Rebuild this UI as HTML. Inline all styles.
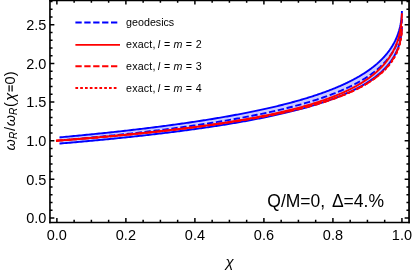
<!DOCTYPE html>
<html><head><meta charset="utf-8"><title>plot</title>
<style>html,body{margin:0;padding:0;background:#fff}svg text{filter:grayscale(1)}body{width:413px;height:272px;overflow:hidden}</style></head>
<body>
<svg width="413" height="272" viewBox="0 0 413 272" style="display:block;font-family:'Liberation Sans',sans-serif">
<rect width="413" height="272" fill="#fff"/>
<g>
<path d="M59.47,137.38 L60.67,137.27 L62.56,137.09 L64.44,136.92 L66.32,136.75 L68.19,136.58 L70.06,136.40 L71.92,136.23 L73.77,136.05 L75.62,135.88 L77.46,135.70 L79.30,135.53 L81.13,135.35 L82.95,135.17 L84.77,134.99 L86.59,134.82 L88.40,134.64 L90.20,134.46 L92.00,134.28 L93.79,134.10 L95.57,133.92 L97.35,133.73 L99.13,133.55 L100.90,133.37 L102.66,133.19 L104.42,133.00 L106.17,132.82 L107.92,132.64 L109.66,132.45 L111.39,132.27 L113.12,132.08 L114.84,131.89 L116.56,131.71 L118.27,131.52 L119.98,131.33 L121.68,131.14 L123.38,130.95 L125.07,130.76 L126.75,130.57 L128.43,130.38 L130.10,130.19 L131.77,130.00 L133.43,129.80 L135.09,129.61 L136.74,129.42 L138.39,129.22 L140.03,129.03 L141.66,128.83 L143.29,128.64 L144.91,128.44 L146.53,128.24 L148.14,128.04 L149.75,127.85 L151.35,127.65 L152.94,127.45 L154.53,127.25 L156.12,127.05 L157.69,126.84 L159.27,126.64 L160.83,126.44 L162.40,126.24 L163.95,126.03 L165.50,125.83 L167.05,125.62 L168.59,125.42 L170.12,125.21 L171.65,125.01 L173.17,124.80 L174.69,124.59 L176.20,124.38 L177.71,124.17 L179.21,123.96 L180.71,123.75 L182.20,123.54 L183.68,123.33 L185.16,123.12 L186.63,122.91 L188.10,122.69 L189.56,122.48 L191.02,122.26 L192.47,122.05 L193.92,121.83 L195.36,121.62 L196.80,121.40 L198.22,121.18 L199.65,120.96 L201.07,120.74 L202.48,120.52 L203.89,120.30 L205.29,120.08 L206.69,119.86 L208.08,119.64 L209.47,119.41 L210.85,119.19 L212.22,118.97 L213.59,118.74 L214.96,118.51 L216.32,118.29 L217.67,118.06 L219.02,117.83 L220.36,117.60 L221.70,117.37 L223.03,117.14 L224.36,116.91 L225.68,116.68 L227.00,116.45 L228.31,116.22 L229.61,115.98 L230.91,115.75 L232.21,115.52 L233.50,115.28 L234.78,115.04 L236.06,114.81 L237.33,114.57 L238.60,114.33 L239.86,114.09 L241.12,113.85 L242.37,113.61 L243.62,113.37 L244.86,113.13 L246.09,112.89 L247.32,112.64 L248.55,112.40 L249.77,112.15 L250.98,111.91 L252.19,111.66 L253.40,111.41 L254.60,111.17 L255.79,110.92 L256.98,110.67 L258.16,110.42 L259.34,110.17 L260.51,109.91 L261.68,109.66 L262.84,109.41 L263.99,109.16 L265.15,108.90 L266.29,108.64 L267.43,108.39 L268.57,108.13 L269.70,107.87 L270.82,107.61 L271.94,107.36 L273.06,107.09 L274.16,106.83 L275.27,106.57 L276.37,106.31 L277.46,106.05 L278.55,105.78 L279.63,105.52 L280.71,105.25 L281.78,104.98 L282.85,104.72 L283.91,104.45 L284.97,104.18 L286.02,103.91 L287.07,103.64 L288.11,103.37 L289.15,103.09 L290.18,102.82 L291.20,102.55 L292.22,102.27 L293.24,102.00 L294.25,101.72 L295.25,101.44 L296.25,101.16 L297.25,100.88 L298.24,100.60 L299.22,100.32 L300.20,100.04 L301.18,99.76 L302.15,99.47 L303.11,99.19 L304.07,98.90 L305.03,98.62 L305.97,98.33 L306.92,98.04 L307.86,97.75 L308.79,97.46 L309.72,97.17 L310.64,96.88 L311.56,96.59 L312.48,96.30 L313.38,96.00 L314.29,95.71 L315.19,95.41 L316.08,95.11 L316.97,94.82 L317.85,94.52 L318.73,94.22 L319.60,93.92 L320.47,93.61 L321.33,93.31 L322.19,93.01 L323.04,92.70 L323.89,92.40 L324.73,92.09 L325.57,91.78 L326.41,91.48 L327.23,91.17 L328.06,90.86 L328.88,90.55 L329.69,90.23 L330.50,89.92 L331.30,89.61 L332.10,89.29 L332.89,88.98 L333.68,88.66 L334.46,88.34 L335.24,88.02 L336.02,87.70 L336.78,87.38 L337.55,87.06 L338.31,86.74 L339.06,86.41 L339.81,86.09 L340.55,85.76 L341.29,85.43 L342.03,85.11 L342.76,84.78 L343.48,84.45 L344.20,84.11 L344.92,83.78 L345.63,83.45 L346.33,83.12 L347.03,82.78 L347.73,82.44 L348.42,82.11 L349.10,81.77 L349.78,81.43 L350.46,81.09 L351.13,80.75 L351.80,80.40 L352.46,80.06 L353.12,79.72 L353.77,79.37 L354.42,79.02 L355.06,78.68 L355.70,78.33 L356.33,77.98 L356.96,77.63 L357.58,77.27 L358.20,76.92 L358.82,76.57 L359.42,76.21 L360.03,75.85 L360.63,75.50 L361.22,75.14 L361.81,74.78 L362.40,74.42 L362.98,74.05 L363.56,73.69 L364.13,73.33 L364.70,72.96 L365.26,72.59 L365.82,72.23 L366.37,71.86 L366.92,71.49 L367.46,71.12 L368.00,70.74 L368.54,70.37 L369.07,70.00 L369.59,69.62 L370.11,69.24 L370.63,68.86 L371.14,68.49 L371.64,68.11 L372.15,67.72 L372.64,67.34 L373.14,66.96 L373.63,66.57 L374.11,66.19 L374.59,65.80 L375.06,65.41 L375.53,65.02 L376.00,64.63 L376.46,64.24 L376.92,63.85 L377.37,63.45 L377.82,63.06 L378.26,62.66 L378.70,62.26 L379.13,61.86 L379.56,61.46 L379.99,61.06 L380.41,60.66 L380.83,60.25 L381.24,59.85 L381.65,59.44 L382.05,59.03 L382.45,58.63 L382.84,58.22 L383.23,57.81 L383.62,57.39 L384.00,56.98 L384.38,56.56 L384.75,56.15 L385.12,55.73 L385.48,55.31 L385.84,54.89 L386.19,54.47 L386.54,54.05 L386.89,53.63 L387.23,53.20 L387.57,52.78 L387.90,52.35 L388.23,51.93 L388.56,51.50 L388.88,51.07 L389.20,50.63 L389.51,50.20 L389.82,49.77 L390.12,49.33 L390.42,48.90 L390.71,48.46 L391.01,48.02 L391.29,47.58 L391.58,47.14 L391.85,46.70 L392.13,46.26 L392.40,45.81 L392.67,45.37 L392.93,44.92 L393.19,44.47 L393.44,44.02 L393.69,43.57 L393.94,43.12 L394.18,42.67 L394.41,42.21 L394.65,41.76 L394.88,41.30 L395.10,40.85 L395.33,40.39 L395.54,39.93 L395.76,39.47 L395.97,39.01 L396.17,38.55 L396.37,38.08 L396.57,37.62 L396.77,37.15 L396.96,36.69 L397.14,36.22 L397.32,35.75 L397.50,35.28 L397.68,34.81 L397.85,34.34 L398.01,33.87 L398.18,33.40 L398.34,32.92 L398.49,32.45 L398.64,31.97 L398.79,31.49 L398.94,31.02 L399.08,30.54 L399.21,30.06 L399.35,29.58 L399.48,29.10 L399.60,28.62 L399.72,28.14 L399.84,27.66 L399.96,27.17 L400.07,26.69 L400.18,26.21 L400.28,25.72 L400.38,25.24 L400.48,24.76 L400.57,24.27 L400.66,23.79 L400.75,23.30 L400.83,22.82 L400.91,22.33 L400.99,21.85 L401.06,21.36 L401.13,20.88 L401.20,20.40 L401.26,19.92 L401.33,19.43 L401.38,18.95 L401.44,18.47 L401.49,18.00 L401.53,17.52 L401.58,17.05 L401.62,16.58 L401.66,16.11 L401.70,15.64 L401.73,15.18 L401.76,14.73 L401.78,14.28 L401.81,13.84 L401.83,13.41 L401.85,12.99 L401.87,12.59 L401.88,12.21 L401.89,11.86 L401.90,11.54 L401.91,11.28 L401.91,11.08 L401.91,10.97 L401.91,10.93 L401.91,26.86 L401.91,26.89 L401.91,27.00 L401.91,27.18 L401.90,27.42 L401.89,27.71 L401.88,28.04 L401.87,28.39 L401.85,28.76 L401.83,29.15 L401.81,29.55 L401.78,29.95 L401.76,30.37 L401.73,30.79 L401.70,31.21 L401.66,31.64 L401.62,32.07 L401.58,32.51 L401.53,32.94 L401.49,33.38 L401.44,33.82 L401.38,34.26 L401.33,34.71 L401.26,35.15 L401.20,35.60 L401.13,36.04 L401.06,36.49 L400.99,36.94 L400.91,37.38 L400.83,37.83 L400.75,38.28 L400.66,38.73 L400.57,39.17 L400.48,39.62 L400.38,40.07 L400.28,40.52 L400.18,40.96 L400.07,41.41 L399.96,41.85 L399.84,42.30 L399.72,42.74 L399.60,43.19 L399.48,43.63 L399.35,44.08 L399.21,44.52 L399.08,44.96 L398.94,45.40 L398.79,45.84 L398.64,46.28 L398.49,46.72 L398.34,47.16 L398.18,47.60 L398.01,48.03 L397.85,48.47 L397.68,48.90 L397.50,49.34 L397.32,49.77 L397.14,50.20 L396.96,50.63 L396.77,51.06 L396.57,51.49 L396.37,51.92 L396.17,52.35 L395.97,52.78 L395.76,53.20 L395.54,53.63 L395.33,54.05 L395.10,54.47 L394.88,54.90 L394.65,55.32 L394.41,55.74 L394.18,56.16 L393.94,56.57 L393.69,56.99 L393.44,57.40 L393.19,57.82 L392.93,58.23 L392.67,58.64 L392.40,59.06 L392.13,59.47 L391.85,59.88 L391.58,60.28 L391.29,60.69 L391.01,61.10 L390.71,61.50 L390.42,61.90 L390.12,62.31 L389.82,62.71 L389.51,63.11 L389.20,63.51 L388.88,63.91 L388.56,64.30 L388.23,64.70 L387.90,65.09 L387.57,65.49 L387.23,65.88 L386.89,66.27 L386.54,66.66 L386.19,67.05 L385.84,67.44 L385.48,67.83 L385.12,68.21 L384.75,68.60 L384.38,68.98 L384.00,69.37 L383.62,69.75 L383.23,70.13 L382.84,70.51 L382.45,70.89 L382.05,71.26 L381.65,71.64 L381.24,72.01 L380.83,72.39 L380.41,72.76 L379.99,73.13 L379.56,73.50 L379.13,73.87 L378.70,74.24 L378.26,74.61 L377.82,74.97 L377.37,75.34 L376.92,75.70 L376.46,76.07 L376.00,76.43 L375.53,76.79 L375.06,77.15 L374.59,77.51 L374.11,77.86 L373.63,78.22 L373.14,78.58 L372.64,78.93 L372.15,79.28 L371.64,79.64 L371.14,79.99 L370.63,80.34 L370.11,80.69 L369.59,81.03 L369.07,81.38 L368.54,81.73 L368.00,82.07 L367.46,82.41 L366.92,82.76 L366.37,83.10 L365.82,83.44 L365.26,83.78 L364.70,84.12 L364.13,84.45 L363.56,84.79 L362.98,85.13 L362.40,85.46 L361.81,85.79 L361.22,86.13 L360.63,86.46 L360.03,86.79 L359.42,87.12 L358.82,87.44 L358.20,87.77 L357.58,88.10 L356.96,88.42 L356.33,88.75 L355.70,89.07 L355.06,89.39 L354.42,89.71 L353.77,90.03 L353.12,90.35 L352.46,90.67 L351.80,90.99 L351.13,91.30 L350.46,91.62 L349.78,91.93 L349.10,92.25 L348.42,92.56 L347.73,92.87 L347.03,93.18 L346.33,93.49 L345.63,93.80 L344.92,94.11 L344.20,94.41 L343.48,94.72 L342.76,95.02 L342.03,95.33 L341.29,95.63 L340.55,95.93 L339.81,96.23 L339.06,96.53 L338.31,96.83 L337.55,97.13 L336.78,97.43 L336.02,97.72 L335.24,98.02 L334.46,98.31 L333.68,98.61 L332.89,98.90 L332.10,99.19 L331.30,99.48 L330.50,99.77 L329.69,100.06 L328.88,100.35 L328.06,100.64 L327.23,100.92 L326.41,101.21 L325.57,101.49 L324.73,101.78 L323.89,102.06 L323.04,102.34 L322.19,102.62 L321.33,102.90 L320.47,103.18 L319.60,103.46 L318.73,103.74 L317.85,104.02 L316.97,104.29 L316.08,104.57 L315.19,104.84 L314.29,105.11 L313.38,105.39 L312.48,105.66 L311.56,105.93 L310.64,106.20 L309.72,106.47 L308.79,106.74 L307.86,107.00 L306.92,107.27 L305.97,107.54 L305.03,107.80 L304.07,108.07 L303.11,108.33 L302.15,108.59 L301.18,108.85 L300.20,109.11 L299.22,109.37 L298.24,109.63 L297.25,109.89 L296.25,110.15 L295.25,110.41 L294.25,110.66 L293.24,110.92 L292.22,111.17 L291.20,111.43 L290.18,111.68 L289.15,111.93 L288.11,112.18 L287.07,112.44 L286.02,112.69 L284.97,112.93 L283.91,113.18 L282.85,113.43 L281.78,113.68 L280.71,113.92 L279.63,114.17 L278.55,114.41 L277.46,114.66 L276.37,114.90 L275.27,115.14 L274.16,115.39 L273.06,115.63 L271.94,115.87 L270.82,116.11 L269.70,116.34 L268.57,116.58 L267.43,116.82 L266.29,117.06 L265.15,117.29 L263.99,117.53 L262.84,117.76 L261.68,118.00 L260.51,118.23 L259.34,118.46 L258.16,118.69 L256.98,118.92 L255.79,119.15 L254.60,119.38 L253.40,119.61 L252.19,119.84 L250.98,120.07 L249.77,120.30 L248.55,120.52 L247.32,120.75 L246.09,120.97 L244.86,121.20 L243.62,121.42 L242.37,121.64 L241.12,121.86 L239.86,122.08 L238.60,122.31 L237.33,122.53 L236.06,122.74 L234.78,122.96 L233.50,123.18 L232.21,123.40 L230.91,123.62 L229.61,123.83 L228.31,124.05 L227.00,124.26 L225.68,124.48 L224.36,124.69 L223.03,124.90 L221.70,125.12 L220.36,125.33 L219.02,125.54 L217.67,125.75 L216.32,125.96 L214.96,126.17 L213.59,126.38 L212.22,126.58 L210.85,126.79 L209.47,127.00 L208.08,127.20 L206.69,127.41 L205.29,127.61 L203.89,127.82 L202.48,128.02 L201.07,128.22 L199.65,128.43 L198.22,128.63 L196.80,128.83 L195.36,129.03 L193.92,129.23 L192.47,129.43 L191.02,129.63 L189.56,129.83 L188.10,130.02 L186.63,130.22 L185.16,130.42 L183.68,130.61 L182.20,130.81 L180.71,131.00 L179.21,131.20 L177.71,131.39 L176.20,131.58 L174.69,131.78 L173.17,131.97 L171.65,132.16 L170.12,132.35 L168.59,132.54 L167.05,132.73 L165.50,132.92 L163.95,133.11 L162.40,133.30 L160.83,133.48 L159.27,133.67 L157.69,133.86 L156.12,134.04 L154.53,134.23 L152.94,134.41 L151.35,134.60 L149.75,134.78 L148.14,134.96 L146.53,135.15 L144.91,135.33 L143.29,135.51 L141.66,135.69 L140.03,135.87 L138.39,136.05 L136.74,136.23 L135.09,136.41 L133.43,136.59 L131.77,136.77 L130.10,136.94 L128.43,137.12 L126.75,137.30 L125.07,137.47 L123.38,137.65 L121.68,137.82 L119.98,138.00 L118.27,138.17 L116.56,138.34 L114.84,138.52 L113.12,138.69 L111.39,138.86 L109.66,139.03 L107.92,139.20 L106.17,139.37 L104.42,139.54 L102.66,139.71 L100.90,139.88 L99.13,140.05 L97.35,140.22 L95.57,140.38 L93.79,140.55 L92.00,140.72 L90.20,140.88 L88.40,141.05 L86.59,141.21 L84.77,141.38 L82.95,141.54 L81.13,141.71 L79.30,141.87 L77.46,142.03 L75.62,142.19 L73.77,142.36 L71.92,142.52 L70.06,142.68 L68.19,142.84 L66.32,143.00 L64.44,143.16 L62.56,143.32 L60.67,143.48 L59.47,143.58 Z" fill="#ccccff" stroke="none"/>
<path d="M59.47,137.38 L60.67,137.27 L62.56,137.09 L64.44,136.92 L66.32,136.75 L68.19,136.58 L70.06,136.40 L71.92,136.23 L73.77,136.05 L75.62,135.88 L77.46,135.70 L79.30,135.53 L81.13,135.35 L82.95,135.17 L84.77,134.99 L86.59,134.82 L88.40,134.64 L90.20,134.46 L92.00,134.28 L93.79,134.10 L95.57,133.92 L97.35,133.73 L99.13,133.55 L100.90,133.37 L102.66,133.19 L104.42,133.00 L106.17,132.82 L107.92,132.64 L109.66,132.45 L111.39,132.27 L113.12,132.08 L114.84,131.89 L116.56,131.71 L118.27,131.52 L119.98,131.33 L121.68,131.14 L123.38,130.95 L125.07,130.76 L126.75,130.57 L128.43,130.38 L130.10,130.19 L131.77,130.00 L133.43,129.80 L135.09,129.61 L136.74,129.42 L138.39,129.22 L140.03,129.03 L141.66,128.83 L143.29,128.64 L144.91,128.44 L146.53,128.24 L148.14,128.04 L149.75,127.85 L151.35,127.65 L152.94,127.45 L154.53,127.25 L156.12,127.05 L157.69,126.84 L159.27,126.64 L160.83,126.44 L162.40,126.24 L163.95,126.03 L165.50,125.83 L167.05,125.62 L168.59,125.42 L170.12,125.21 L171.65,125.01 L173.17,124.80 L174.69,124.59 L176.20,124.38 L177.71,124.17 L179.21,123.96 L180.71,123.75 L182.20,123.54 L183.68,123.33 L185.16,123.12 L186.63,122.91 L188.10,122.69 L189.56,122.48 L191.02,122.26 L192.47,122.05 L193.92,121.83 L195.36,121.62 L196.80,121.40 L198.22,121.18 L199.65,120.96 L201.07,120.74 L202.48,120.52 L203.89,120.30 L205.29,120.08 L206.69,119.86 L208.08,119.64 L209.47,119.41 L210.85,119.19 L212.22,118.97 L213.59,118.74 L214.96,118.51 L216.32,118.29 L217.67,118.06 L219.02,117.83 L220.36,117.60 L221.70,117.37 L223.03,117.14 L224.36,116.91 L225.68,116.68 L227.00,116.45 L228.31,116.22 L229.61,115.98 L230.91,115.75 L232.21,115.52 L233.50,115.28 L234.78,115.04 L236.06,114.81 L237.33,114.57 L238.60,114.33 L239.86,114.09 L241.12,113.85 L242.37,113.61 L243.62,113.37 L244.86,113.13 L246.09,112.89 L247.32,112.64 L248.55,112.40 L249.77,112.15 L250.98,111.91 L252.19,111.66 L253.40,111.41 L254.60,111.17 L255.79,110.92 L256.98,110.67 L258.16,110.42 L259.34,110.17 L260.51,109.91 L261.68,109.66 L262.84,109.41 L263.99,109.16 L265.15,108.90 L266.29,108.64 L267.43,108.39 L268.57,108.13 L269.70,107.87 L270.82,107.61 L271.94,107.36 L273.06,107.09 L274.16,106.83 L275.27,106.57 L276.37,106.31 L277.46,106.05 L278.55,105.78 L279.63,105.52 L280.71,105.25 L281.78,104.98 L282.85,104.72 L283.91,104.45 L284.97,104.18 L286.02,103.91 L287.07,103.64 L288.11,103.37 L289.15,103.09 L290.18,102.82 L291.20,102.55 L292.22,102.27 L293.24,102.00 L294.25,101.72 L295.25,101.44 L296.25,101.16 L297.25,100.88 L298.24,100.60 L299.22,100.32 L300.20,100.04 L301.18,99.76 L302.15,99.47 L303.11,99.19 L304.07,98.90 L305.03,98.62 L305.97,98.33 L306.92,98.04 L307.86,97.75 L308.79,97.46 L309.72,97.17 L310.64,96.88 L311.56,96.59 L312.48,96.30 L313.38,96.00 L314.29,95.71 L315.19,95.41 L316.08,95.11 L316.97,94.82 L317.85,94.52 L318.73,94.22 L319.60,93.92 L320.47,93.61 L321.33,93.31 L322.19,93.01 L323.04,92.70 L323.89,92.40 L324.73,92.09 L325.57,91.78 L326.41,91.48 L327.23,91.17 L328.06,90.86 L328.88,90.55 L329.69,90.23 L330.50,89.92 L331.30,89.61 L332.10,89.29 L332.89,88.98 L333.68,88.66 L334.46,88.34 L335.24,88.02 L336.02,87.70 L336.78,87.38 L337.55,87.06 L338.31,86.74 L339.06,86.41 L339.81,86.09 L340.55,85.76 L341.29,85.43 L342.03,85.11 L342.76,84.78 L343.48,84.45 L344.20,84.11 L344.92,83.78 L345.63,83.45 L346.33,83.12 L347.03,82.78 L347.73,82.44 L348.42,82.11 L349.10,81.77 L349.78,81.43 L350.46,81.09 L351.13,80.75 L351.80,80.40 L352.46,80.06 L353.12,79.72 L353.77,79.37 L354.42,79.02 L355.06,78.68 L355.70,78.33 L356.33,77.98 L356.96,77.63 L357.58,77.27 L358.20,76.92 L358.82,76.57 L359.42,76.21 L360.03,75.85 L360.63,75.50 L361.22,75.14 L361.81,74.78 L362.40,74.42 L362.98,74.05 L363.56,73.69 L364.13,73.33 L364.70,72.96 L365.26,72.59 L365.82,72.23 L366.37,71.86 L366.92,71.49 L367.46,71.12 L368.00,70.74 L368.54,70.37 L369.07,70.00 L369.59,69.62 L370.11,69.24 L370.63,68.86 L371.14,68.49 L371.64,68.11 L372.15,67.72 L372.64,67.34 L373.14,66.96 L373.63,66.57 L374.11,66.19 L374.59,65.80 L375.06,65.41 L375.53,65.02 L376.00,64.63 L376.46,64.24 L376.92,63.85 L377.37,63.45 L377.82,63.06 L378.26,62.66 L378.70,62.26 L379.13,61.86 L379.56,61.46 L379.99,61.06 L380.41,60.66 L380.83,60.25 L381.24,59.85 L381.65,59.44 L382.05,59.03 L382.45,58.63 L382.84,58.22 L383.23,57.81 L383.62,57.39 L384.00,56.98 L384.38,56.56 L384.75,56.15 L385.12,55.73 L385.48,55.31 L385.84,54.89 L386.19,54.47 L386.54,54.05 L386.89,53.63 L387.23,53.20 L387.57,52.78 L387.90,52.35 L388.23,51.93 L388.56,51.50 L388.88,51.07 L389.20,50.63 L389.51,50.20 L389.82,49.77 L390.12,49.33 L390.42,48.90 L390.71,48.46 L391.01,48.02 L391.29,47.58 L391.58,47.14 L391.85,46.70 L392.13,46.26 L392.40,45.81 L392.67,45.37 L392.93,44.92 L393.19,44.47 L393.44,44.02 L393.69,43.57 L393.94,43.12 L394.18,42.67 L394.41,42.21 L394.65,41.76 L394.88,41.30 L395.10,40.85 L395.33,40.39 L395.54,39.93 L395.76,39.47 L395.97,39.01 L396.17,38.55 L396.37,38.08 L396.57,37.62 L396.77,37.15 L396.96,36.69 L397.14,36.22 L397.32,35.75 L397.50,35.28 L397.68,34.81 L397.85,34.34 L398.01,33.87 L398.18,33.40 L398.34,32.92 L398.49,32.45 L398.64,31.97 L398.79,31.49 L398.94,31.02 L399.08,30.54 L399.21,30.06 L399.35,29.58 L399.48,29.10 L399.60,28.62 L399.72,28.14 L399.84,27.66 L399.96,27.17 L400.07,26.69 L400.18,26.21 L400.28,25.72 L400.38,25.24 L400.48,24.76 L400.57,24.27 L400.66,23.79 L400.75,23.30 L400.83,22.82 L400.91,22.33 L400.99,21.85 L401.06,21.36 L401.13,20.88 L401.20,20.40 L401.26,19.92 L401.33,19.43 L401.38,18.95 L401.44,18.47 L401.49,18.00 L401.53,17.52 L401.58,17.05 L401.62,16.58 L401.66,16.11 L401.70,15.64 L401.73,15.18 L401.76,14.73 L401.78,14.28 L401.81,13.84 L401.83,13.41 L401.85,12.99 L401.87,12.59 L401.88,12.21 L401.89,11.86 L401.90,11.54 L401.91,11.28 L401.91,11.08 L401.91,10.97 L401.91,10.93" fill="none" stroke="#0000ff" stroke-width="1.9"/>
<path d="M59.47,143.58 L60.67,143.48 L62.56,143.32 L64.44,143.16 L66.32,143.00 L68.19,142.84 L70.06,142.68 L71.92,142.52 L73.77,142.36 L75.62,142.19 L77.46,142.03 L79.30,141.87 L81.13,141.71 L82.95,141.54 L84.77,141.38 L86.59,141.21 L88.40,141.05 L90.20,140.88 L92.00,140.72 L93.79,140.55 L95.57,140.38 L97.35,140.22 L99.13,140.05 L100.90,139.88 L102.66,139.71 L104.42,139.54 L106.17,139.37 L107.92,139.20 L109.66,139.03 L111.39,138.86 L113.12,138.69 L114.84,138.52 L116.56,138.34 L118.27,138.17 L119.98,138.00 L121.68,137.82 L123.38,137.65 L125.07,137.47 L126.75,137.30 L128.43,137.12 L130.10,136.94 L131.77,136.77 L133.43,136.59 L135.09,136.41 L136.74,136.23 L138.39,136.05 L140.03,135.87 L141.66,135.69 L143.29,135.51 L144.91,135.33 L146.53,135.15 L148.14,134.96 L149.75,134.78 L151.35,134.60 L152.94,134.41 L154.53,134.23 L156.12,134.04 L157.69,133.86 L159.27,133.67 L160.83,133.48 L162.40,133.30 L163.95,133.11 L165.50,132.92 L167.05,132.73 L168.59,132.54 L170.12,132.35 L171.65,132.16 L173.17,131.97 L174.69,131.78 L176.20,131.58 L177.71,131.39 L179.21,131.20 L180.71,131.00 L182.20,130.81 L183.68,130.61 L185.16,130.42 L186.63,130.22 L188.10,130.02 L189.56,129.83 L191.02,129.63 L192.47,129.43 L193.92,129.23 L195.36,129.03 L196.80,128.83 L198.22,128.63 L199.65,128.43 L201.07,128.22 L202.48,128.02 L203.89,127.82 L205.29,127.61 L206.69,127.41 L208.08,127.20 L209.47,127.00 L210.85,126.79 L212.22,126.58 L213.59,126.38 L214.96,126.17 L216.32,125.96 L217.67,125.75 L219.02,125.54 L220.36,125.33 L221.70,125.12 L223.03,124.90 L224.36,124.69 L225.68,124.48 L227.00,124.26 L228.31,124.05 L229.61,123.83 L230.91,123.62 L232.21,123.40 L233.50,123.18 L234.78,122.96 L236.06,122.74 L237.33,122.53 L238.60,122.31 L239.86,122.08 L241.12,121.86 L242.37,121.64 L243.62,121.42 L244.86,121.20 L246.09,120.97 L247.32,120.75 L248.55,120.52 L249.77,120.30 L250.98,120.07 L252.19,119.84 L253.40,119.61 L254.60,119.38 L255.79,119.15 L256.98,118.92 L258.16,118.69 L259.34,118.46 L260.51,118.23 L261.68,118.00 L262.84,117.76 L263.99,117.53 L265.15,117.29 L266.29,117.06 L267.43,116.82 L268.57,116.58 L269.70,116.34 L270.82,116.11 L271.94,115.87 L273.06,115.63 L274.16,115.39 L275.27,115.14 L276.37,114.90 L277.46,114.66 L278.55,114.41 L279.63,114.17 L280.71,113.92 L281.78,113.68 L282.85,113.43 L283.91,113.18 L284.97,112.93 L286.02,112.69 L287.07,112.44 L288.11,112.18 L289.15,111.93 L290.18,111.68 L291.20,111.43 L292.22,111.17 L293.24,110.92 L294.25,110.66 L295.25,110.41 L296.25,110.15 L297.25,109.89 L298.24,109.63 L299.22,109.37 L300.20,109.11 L301.18,108.85 L302.15,108.59 L303.11,108.33 L304.07,108.07 L305.03,107.80 L305.97,107.54 L306.92,107.27 L307.86,107.00 L308.79,106.74 L309.72,106.47 L310.64,106.20 L311.56,105.93 L312.48,105.66 L313.38,105.39 L314.29,105.11 L315.19,104.84 L316.08,104.57 L316.97,104.29 L317.85,104.02 L318.73,103.74 L319.60,103.46 L320.47,103.18 L321.33,102.90 L322.19,102.62 L323.04,102.34 L323.89,102.06 L324.73,101.78 L325.57,101.49 L326.41,101.21 L327.23,100.92 L328.06,100.64 L328.88,100.35 L329.69,100.06 L330.50,99.77 L331.30,99.48 L332.10,99.19 L332.89,98.90 L333.68,98.61 L334.46,98.31 L335.24,98.02 L336.02,97.72 L336.78,97.43 L337.55,97.13 L338.31,96.83 L339.06,96.53 L339.81,96.23 L340.55,95.93 L341.29,95.63 L342.03,95.33 L342.76,95.02 L343.48,94.72 L344.20,94.41 L344.92,94.11 L345.63,93.80 L346.33,93.49 L347.03,93.18 L347.73,92.87 L348.42,92.56 L349.10,92.25 L349.78,91.93 L350.46,91.62 L351.13,91.30 L351.80,90.99 L352.46,90.67 L353.12,90.35 L353.77,90.03 L354.42,89.71 L355.06,89.39 L355.70,89.07 L356.33,88.75 L356.96,88.42 L357.58,88.10 L358.20,87.77 L358.82,87.44 L359.42,87.12 L360.03,86.79 L360.63,86.46 L361.22,86.13 L361.81,85.79 L362.40,85.46 L362.98,85.13 L363.56,84.79 L364.13,84.45 L364.70,84.12 L365.26,83.78 L365.82,83.44 L366.37,83.10 L366.92,82.76 L367.46,82.41 L368.00,82.07 L368.54,81.73 L369.07,81.38 L369.59,81.03 L370.11,80.69 L370.63,80.34 L371.14,79.99 L371.64,79.64 L372.15,79.28 L372.64,78.93 L373.14,78.58 L373.63,78.22 L374.11,77.86 L374.59,77.51 L375.06,77.15 L375.53,76.79 L376.00,76.43 L376.46,76.07 L376.92,75.70 L377.37,75.34 L377.82,74.97 L378.26,74.61 L378.70,74.24 L379.13,73.87 L379.56,73.50 L379.99,73.13 L380.41,72.76 L380.83,72.39 L381.24,72.01 L381.65,71.64 L382.05,71.26 L382.45,70.89 L382.84,70.51 L383.23,70.13 L383.62,69.75 L384.00,69.37 L384.38,68.98 L384.75,68.60 L385.12,68.21 L385.48,67.83 L385.84,67.44 L386.19,67.05 L386.54,66.66 L386.89,66.27 L387.23,65.88 L387.57,65.49 L387.90,65.09 L388.23,64.70 L388.56,64.30 L388.88,63.91 L389.20,63.51 L389.51,63.11 L389.82,62.71 L390.12,62.31 L390.42,61.90 L390.71,61.50 L391.01,61.10 L391.29,60.69 L391.58,60.28 L391.85,59.88 L392.13,59.47 L392.40,59.06 L392.67,58.64 L392.93,58.23 L393.19,57.82 L393.44,57.40 L393.69,56.99 L393.94,56.57 L394.18,56.16 L394.41,55.74 L394.65,55.32 L394.88,54.90 L395.10,54.47 L395.33,54.05 L395.54,53.63 L395.76,53.20 L395.97,52.78 L396.17,52.35 L396.37,51.92 L396.57,51.49 L396.77,51.06 L396.96,50.63 L397.14,50.20 L397.32,49.77 L397.50,49.34 L397.68,48.90 L397.85,48.47 L398.01,48.03 L398.18,47.60 L398.34,47.16 L398.49,46.72 L398.64,46.28 L398.79,45.84 L398.94,45.40 L399.08,44.96 L399.21,44.52 L399.35,44.08 L399.48,43.63 L399.60,43.19 L399.72,42.74 L399.84,42.30 L399.96,41.85 L400.07,41.41 L400.18,40.96 L400.28,40.52 L400.38,40.07 L400.48,39.62 L400.57,39.17 L400.66,38.73 L400.75,38.28 L400.83,37.83 L400.91,37.38 L400.99,36.94 L401.06,36.49 L401.13,36.04 L401.20,35.60 L401.26,35.15 L401.33,34.71 L401.38,34.26 L401.44,33.82 L401.49,33.38 L401.53,32.94 L401.58,32.51 L401.62,32.07 L401.66,31.64 L401.70,31.21 L401.73,30.79 L401.76,30.37 L401.78,29.95 L401.81,29.55 L401.83,29.15 L401.85,28.76 L401.87,28.39 L401.88,28.04 L401.89,27.71 L401.90,27.42 L401.91,27.18 L401.91,27.00 L401.91,26.89 L401.91,26.86" fill="none" stroke="#0000ff" stroke-width="1.9"/>
<path d="M59.47,140.48 L60.67,140.37 L62.56,140.21 L64.44,140.04 L66.32,139.87 L68.19,139.71 L70.06,139.54 L71.92,139.37 L73.77,139.20 L75.62,139.04 L77.46,138.87 L79.30,138.70 L81.13,138.53 L82.95,138.36 L84.77,138.19 L86.59,138.01 L88.40,137.84 L90.20,137.67 L92.00,137.50 L93.79,137.32 L95.57,137.15 L97.35,136.98 L99.13,136.80 L100.90,136.63 L102.66,136.45 L104.42,136.27 L106.17,136.10 L107.92,135.92 L109.66,135.74 L111.39,135.56 L113.12,135.38 L114.84,135.20 L116.56,135.02 L118.27,134.84 L119.98,134.66 L121.68,134.48 L123.38,134.30 L125.07,134.12 L126.75,133.93 L128.43,133.75 L130.10,133.57 L131.77,133.38 L133.43,133.20 L135.09,133.01 L136.74,132.82 L138.39,132.64 L140.03,132.45 L141.66,132.26 L143.29,132.07 L144.91,131.88 L146.53,131.69 L148.14,131.50 L149.75,131.31 L151.35,131.12 L152.94,130.93 L154.53,130.74 L156.12,130.54 L157.69,130.35 L159.27,130.16 L160.83,129.96 L162.40,129.77 L163.95,129.57 L165.50,129.37 L167.05,129.18 L168.59,128.98 L170.12,128.78 L171.65,128.58 L173.17,128.38 L174.69,128.18 L176.20,127.98 L177.71,127.78 L179.21,127.58 L180.71,127.38 L182.20,127.18 L183.68,126.97 L185.16,126.77 L186.63,126.56 L188.10,126.36 L189.56,126.15 L191.02,125.95 L192.47,125.74 L193.92,125.53 L195.36,125.32 L196.80,125.11 L198.22,124.90 L199.65,124.69 L201.07,124.48 L202.48,124.27 L203.89,124.06 L205.29,123.85 L206.69,123.63 L208.08,123.42 L209.47,123.21 L210.85,122.99 L212.22,122.77 L213.59,122.56 L214.96,122.34 L216.32,122.12 L217.67,121.90 L219.02,121.69 L220.36,121.47 L221.70,121.24 L223.03,121.02 L224.36,120.80 L225.68,120.58 L227.00,120.36 L228.31,120.13 L229.61,119.91 L230.91,119.68 L232.21,119.46 L233.50,119.23 L234.78,119.00 L236.06,118.78 L237.33,118.55 L238.60,118.32 L239.86,118.09 L241.12,117.86 L242.37,117.63 L243.62,117.39 L244.86,117.16 L246.09,116.93 L247.32,116.69 L248.55,116.46 L249.77,116.22 L250.98,115.99 L252.19,115.75 L253.40,115.51 L254.60,115.27 L255.79,115.04 L256.98,114.80 L258.16,114.56 L259.34,114.31 L260.51,114.07 L261.68,113.83 L262.84,113.59 L263.99,113.34 L265.15,113.10 L266.29,112.85 L267.43,112.60 L268.57,112.36 L269.70,112.11 L270.82,111.86 L271.94,111.61 L273.06,111.36 L274.16,111.11 L275.27,110.86 L276.37,110.61 L277.46,110.35 L278.55,110.10 L279.63,109.84 L280.71,109.59 L281.78,109.33 L282.85,109.07 L283.91,108.82 L284.97,108.56 L286.02,108.30 L287.07,108.04 L288.11,107.78 L289.15,107.51 L290.18,107.25 L291.20,106.99 L292.22,106.72 L293.24,106.46 L294.25,106.19 L295.25,105.92 L296.25,105.66 L297.25,105.39 L298.24,105.12 L299.22,104.85 L300.20,104.58 L301.18,104.31 L302.15,104.03 L303.11,103.76 L304.07,103.48 L305.03,103.21 L305.97,102.93 L306.92,102.66 L307.86,102.38 L308.79,102.10 L309.72,101.82 L310.64,101.54 L311.56,101.26 L312.48,100.98 L313.38,100.69 L314.29,100.41 L315.19,100.13 L316.08,99.84 L316.97,99.55 L317.85,99.27 L318.73,98.98 L319.60,98.69 L320.47,98.40 L321.33,98.11 L322.19,97.82 L323.04,97.52 L323.89,97.23 L324.73,96.93 L325.57,96.64 L326.41,96.34 L327.23,96.05 L328.06,95.75 L328.88,95.45 L329.69,95.15 L330.50,94.85 L331.30,94.54 L332.10,94.24 L332.89,93.94 L333.68,93.63 L334.46,93.33 L335.24,93.02 L336.02,92.71 L336.78,92.40 L337.55,92.09 L338.31,91.78 L339.06,91.47 L339.81,91.16 L340.55,90.85 L341.29,90.53 L342.03,90.22 L342.76,89.90 L343.48,89.58 L344.20,89.26 L344.92,88.94 L345.63,88.62 L346.33,88.30 L347.03,87.98 L347.73,87.66 L348.42,87.33 L349.10,87.01 L349.78,86.68 L350.46,86.35 L351.13,86.03 L351.80,85.70 L352.46,85.37 L353.12,85.03 L353.77,84.70 L354.42,84.37 L355.06,84.03 L355.70,83.70 L356.33,83.36 L356.96,83.02 L357.58,82.69 L358.20,82.35 L358.82,82.00 L359.42,81.66 L360.03,81.32 L360.63,80.98 L361.22,80.63 L361.81,80.29 L362.40,79.94 L362.98,79.59 L363.56,79.24 L364.13,78.89 L364.70,78.54 L365.26,78.19 L365.82,77.83 L366.37,77.48 L366.92,77.12 L367.46,76.77 L368.00,76.41 L368.54,76.05 L369.07,75.69 L369.59,75.33 L370.11,74.96 L370.63,74.60 L371.14,74.24 L371.64,73.87 L372.15,73.50 L372.64,73.14 L373.14,72.77 L373.63,72.40 L374.11,72.03 L374.59,71.65 L375.06,71.28 L375.53,70.90 L376.00,70.53 L376.46,70.15 L376.92,69.77 L377.37,69.39 L377.82,69.01 L378.26,68.63 L378.70,68.25 L379.13,67.87 L379.56,67.48 L379.99,67.10 L380.41,66.71 L380.83,66.32 L381.24,65.93 L381.65,65.54 L382.05,65.15 L382.45,64.76 L382.84,64.36 L383.23,63.97 L383.62,63.57 L384.00,63.17 L384.38,62.77 L384.75,62.37 L385.12,61.97 L385.48,61.57 L385.84,61.17 L386.19,60.76 L386.54,60.36 L386.89,59.95 L387.23,59.54 L387.57,59.13 L387.90,58.72 L388.23,58.31 L388.56,57.90 L388.88,57.49 L389.20,57.07 L389.51,56.66 L389.82,56.24 L390.12,55.82 L390.42,55.40 L390.71,54.98 L391.01,54.56 L391.29,54.14 L391.58,53.71 L391.85,53.29 L392.13,52.86 L392.40,52.43 L392.67,52.01 L392.93,51.58 L393.19,51.15 L393.44,50.71 L393.69,50.28 L393.94,49.85 L394.18,49.41 L394.41,48.98 L394.65,48.54 L394.88,48.10 L395.10,47.66 L395.33,47.22 L395.54,46.78 L395.76,46.34 L395.97,45.89 L396.17,45.45 L396.37,45.00 L396.57,44.56 L396.77,44.11 L396.96,43.66 L397.14,43.21 L397.32,42.76 L397.50,42.31 L397.68,41.86 L397.85,41.40 L398.01,40.95 L398.18,40.50 L398.34,40.04 L398.49,39.58 L398.64,39.13 L398.79,38.67 L398.94,38.21 L399.08,37.75 L399.21,37.29 L399.35,36.83 L399.48,36.37 L399.60,35.90 L399.72,35.44 L399.84,34.98 L399.96,34.51 L400.07,34.05 L400.18,33.59 L400.28,33.12 L400.38,32.65 L400.48,32.19 L400.57,31.72 L400.66,31.26 L400.75,30.79 L400.83,30.32 L400.91,29.86 L400.99,29.39 L401.06,28.93 L401.13,28.46 L401.20,28.00 L401.26,27.53 L401.33,27.07 L401.38,26.61 L401.44,26.15 L401.49,25.69 L401.53,25.23 L401.58,24.78 L401.62,24.32 L401.66,23.87 L401.70,23.43 L401.73,22.98 L401.76,22.55 L401.78,22.12 L401.81,21.69 L401.83,21.28 L401.85,20.88 L401.87,20.49 L401.88,20.12 L401.89,19.78 L401.90,19.48 L401.91,19.23 L401.91,19.04 L401.91,18.93 L401.91,18.90" fill="none" stroke="#0000ff" stroke-width="1.9" stroke-dasharray="6.35 2.655" stroke-dashoffset="4.56"/>
<path d="M55.98,140.77 L56.88,140.70 L58.78,140.56 L60.67,140.41 L62.56,140.27 L64.44,140.12 L66.32,139.98 L68.19,139.83 L70.06,139.68 L71.92,139.54 L73.77,139.39 L75.62,139.24 L77.46,139.09 L79.30,138.94 L81.13,138.79 L82.95,138.64 L84.77,138.49 L86.59,138.34 L88.40,138.19 L90.20,138.04 L92.00,137.89 L93.79,137.73 L95.57,137.58 L97.35,137.43 L99.13,137.27 L100.90,137.12 L102.66,136.96 L104.42,136.81 L106.17,136.65 L107.92,136.49 L109.66,136.33 L111.39,136.18 L113.12,136.02 L114.84,135.86 L116.56,135.70 L118.27,135.54 L119.98,135.38 L121.68,135.21 L123.38,135.05 L125.07,134.89 L126.75,134.73 L128.43,134.56 L130.10,134.40 L131.77,134.23 L133.43,134.07 L135.09,133.90 L136.74,133.73 L138.39,133.57 L140.03,133.40 L141.66,133.23 L143.29,133.06 L144.91,132.89 L146.53,132.72 L148.14,132.55 L149.75,132.38 L151.35,132.21 L152.94,132.04 L154.53,131.86 L156.12,131.69 L157.69,131.52 L159.27,131.34 L160.83,131.16 L162.40,130.99 L163.95,130.81 L165.50,130.63 L167.05,130.46 L168.59,130.28 L170.12,130.10 L171.65,129.92 L173.17,129.74 L174.69,129.56 L176.20,129.37 L177.71,129.19 L179.21,129.01 L180.71,128.83 L182.20,128.64 L183.68,128.46 L185.16,128.27 L186.63,128.08 L188.10,127.90 L189.56,127.71 L191.02,127.52 L192.47,127.33 L193.92,127.14 L195.36,126.95 L196.80,126.76 L198.22,126.57 L199.65,126.37 L201.07,126.18 L202.48,125.99 L203.89,125.79 L205.29,125.60 L206.69,125.40 L208.08,125.20 L209.47,125.01 L210.85,124.81 L212.22,124.61 L213.59,124.41 L214.96,124.21 L216.32,124.01 L217.67,123.81 L219.02,123.60 L220.36,123.40 L221.70,123.20 L223.03,122.99 L224.36,122.79 L225.68,122.58 L227.00,122.37 L228.31,122.16 L229.61,121.96 L230.91,121.75 L232.21,121.54 L233.50,121.32 L234.78,121.11 L236.06,120.90 L237.33,120.69 L238.60,120.47 L239.86,120.26 L241.12,120.04 L242.37,119.82 L243.62,119.61 L244.86,119.39 L246.09,119.17 L247.32,118.95 L248.55,118.73 L249.77,118.51 L250.98,118.29 L252.19,118.06 L253.40,117.84 L254.60,117.61 L255.79,117.39 L256.98,117.16 L258.16,116.93 L259.34,116.70 L260.51,116.47 L261.68,116.24 L262.84,116.01 L263.99,115.78 L265.15,115.55 L266.29,115.32 L267.43,115.08 L268.57,114.85 L269.70,114.61 L270.82,114.37 L271.94,114.13 L273.06,113.89 L274.16,113.65 L275.27,113.41 L276.37,113.17 L277.46,112.93 L278.55,112.69 L279.63,112.44 L280.71,112.19 L281.78,111.95 L282.85,111.70 L283.91,111.45 L284.97,111.20 L286.02,110.95 L287.07,110.70 L288.11,110.45 L289.15,110.20 L290.18,109.94 L291.20,109.69 L292.22,109.43 L293.24,109.17 L294.25,108.91 L295.25,108.65 L296.25,108.39 L297.25,108.13 L298.24,107.87 L299.22,107.61 L300.20,107.34 L301.18,107.08 L302.15,106.81 L303.11,106.54 L304.07,106.27 L305.03,106.00 L305.97,105.73 L306.92,105.46 L307.86,105.19 L308.79,104.91 L309.72,104.64 L310.64,104.36 L311.56,104.09 L312.48,103.81 L313.38,103.53 L314.29,103.25 L315.19,102.97 L316.08,102.68 L316.97,102.40 L317.85,102.11 L318.73,101.83 L319.60,101.54 L320.47,101.25 L321.33,100.96 L322.19,100.67 L323.04,100.38 L323.89,100.09 L324.73,99.79 L325.57,99.50 L326.41,99.20 L327.23,98.90 L328.06,98.60 L328.88,98.30 L329.69,98.00 L330.50,97.70 L331.30,97.40 L332.10,97.09 L332.89,96.78 L333.68,96.48 L334.46,96.17 L335.24,95.86 L336.02,95.55 L336.78,95.23 L337.55,94.92 L338.31,94.61 L339.06,94.29 L339.81,93.97 L340.55,93.65 L341.29,93.33 L342.03,93.01 L342.76,92.69 L343.48,92.37 L344.20,92.04 L344.92,91.71 L345.63,91.39 L346.33,91.06 L347.03,90.73 L347.73,90.39 L348.42,90.06 L349.10,89.73 L349.78,89.39 L350.46,89.05 L351.13,88.72 L351.80,88.38 L352.46,88.03 L353.12,87.69 L353.77,87.35 L354.42,87.00 L355.06,86.65 L355.70,86.31 L356.33,85.96 L356.96,85.61 L357.58,85.25 L358.20,84.90 L358.82,84.54 L359.42,84.19 L360.03,83.83 L360.63,83.47 L361.22,83.11 L361.81,82.75 L362.40,82.38 L362.98,82.01 L363.56,81.65 L364.13,81.28 L364.70,80.91 L365.26,80.54 L365.82,80.16 L366.37,79.79 L366.92,79.42 L367.46,79.04 L368.00,78.66 L368.54,78.28 L369.07,77.90 L369.59,77.52 L370.11,77.13 L370.63,76.74 L371.14,76.36 L371.64,75.97 L372.15,75.58 L372.64,75.18 L373.14,74.79 L373.63,74.39 L374.11,73.99 L374.59,73.60 L375.06,73.19 L375.53,72.79 L376.00,72.39 L376.46,71.98 L376.92,71.58 L377.37,71.17 L377.82,70.76 L378.26,70.35 L378.70,69.93 L379.13,69.52 L379.56,69.10 L379.99,68.68 L380.41,68.26 L380.83,67.84 L381.24,67.42 L381.65,66.99 L382.05,66.56 L382.45,66.13 L382.84,65.70 L383.23,65.27 L383.62,64.84 L384.00,64.40 L384.38,63.97 L384.75,63.53 L385.12,63.09 L385.48,62.65 L385.84,62.20 L386.19,61.76 L386.54,61.31 L386.89,60.86 L387.23,60.41 L387.57,59.96 L387.90,59.50 L388.23,59.05 L388.56,58.59 L388.88,58.13 L389.20,57.67 L389.51,57.21 L389.82,56.74 L390.12,56.27 L390.42,55.81 L390.71,55.34 L391.01,54.87 L391.29,54.39 L391.58,53.92 L391.85,53.44 L392.13,52.96 L392.40,52.48 L392.67,52.00 L392.93,51.51 L393.19,51.03 L393.44,50.54 L393.69,50.05 L393.94,49.56 L394.18,49.07 L394.41,48.57 L394.65,48.08 L394.88,47.58 L395.10,47.08 L395.33,46.58 L395.54,46.08 L395.76,45.57 L395.97,45.06 L396.17,44.56 L396.37,44.05 L396.57,43.53 L396.77,43.02 L396.96,42.51 L397.14,41.99 L397.32,41.47 L397.50,40.95 L397.68,40.43 L397.85,39.90 L398.01,39.38 L398.18,38.85 L398.34,38.33 L398.49,37.80 L398.64,37.27 L398.79,36.74 L398.94,36.20 L399.08,35.67 L399.21,35.13 L399.35,34.59 L399.48,34.05 L399.60,33.51 L399.72,32.97 L399.84,32.43 L399.96,31.89 L400.07,31.34 L400.18,30.79 L400.28,30.25 L400.38,29.70 L400.48,29.15 L400.57,28.60 L400.66,28.05 L400.75,27.50 L400.83,26.95 L400.91,26.39 L400.99,25.84 L401.06,25.29 L401.13,24.74 L401.20,24.18 L401.26,23.63 L401.33,23.08 L401.38,22.53 L401.44,21.98 L401.49,21.43 L401.53,20.88 L401.58,20.34 L401.62,19.79 L401.66,19.24 L401.70,18.71 L401.73,18.17 L401.76,17.64 L401.78,17.12 L401.81,16.61 L401.83,16.11 L401.85,15.63 L401.87,15.16 L401.88,14.72 L401.89,14.31 L401.90,13.94 L401.91,13.63 L401.91,13.41 L401.91,13.27 L401.91,13.23" fill="none" stroke="#ff0000" stroke-width="1.9"/>
<path d="M55.98,140.77 L56.88,140.70 L58.78,140.56 L60.67,140.41 L62.56,140.27 L64.44,140.12 L66.32,139.98 L68.19,139.83 L70.06,139.68 L71.92,139.54 L73.77,139.39 L75.62,139.24 L77.46,139.09 L79.30,138.95 L81.13,138.80 L82.95,138.65 L84.77,138.50 L86.59,138.35 L88.40,138.20 L90.20,138.05 L92.00,137.89 L93.79,137.74 L95.57,137.59 L97.35,137.44 L99.13,137.28 L100.90,137.13 L102.66,136.98 L104.42,136.82 L106.17,136.67 L107.92,136.51 L109.66,136.36 L111.39,136.20 L113.12,136.04 L114.84,135.88 L116.56,135.73 L118.27,135.57 L119.98,135.41 L121.68,135.25 L123.38,135.09 L125.07,134.93 L126.75,134.77 L128.43,134.61 L130.10,134.45 L131.77,134.29 L133.43,134.12 L135.09,133.96 L136.74,133.80 L138.39,133.63 L140.03,133.47 L141.66,133.30 L143.29,133.14 L144.91,132.97 L146.53,132.81 L148.14,132.64 L149.75,132.47 L151.35,132.30 L152.94,132.13 L154.53,131.97 L156.12,131.80 L157.69,131.63 L159.27,131.46 L160.83,131.28 L162.40,131.11 L163.95,130.94 L165.50,130.77 L167.05,130.60 L168.59,130.42 L170.12,130.25 L171.65,130.07 L173.17,129.90 L174.69,129.72 L176.20,129.55 L177.71,129.37 L179.21,129.19 L180.71,129.01 L182.20,128.83 L183.68,128.66 L185.16,128.48 L186.63,128.30 L188.10,128.12 L189.56,127.93 L191.02,127.75 L192.47,127.57 L193.92,127.39 L195.36,127.20 L196.80,127.02 L198.22,126.83 L199.65,126.65 L201.07,126.46 L202.48,126.28 L203.89,126.09 L205.29,125.90 L206.69,125.71 L208.08,125.53 L209.47,125.34 L210.85,125.15 L212.22,124.96 L213.59,124.77 L214.96,124.57 L216.32,124.38 L217.67,124.19 L219.02,123.99 L220.36,123.80 L221.70,123.61 L223.03,123.41 L224.36,123.21 L225.68,123.02 L227.00,122.82 L228.31,122.62 L229.61,122.42 L230.91,122.23 L232.21,122.03 L233.50,121.82 L234.78,121.62 L236.06,121.42 L237.33,121.22 L238.60,121.02 L239.86,120.81 L241.12,120.61 L242.37,120.40 L243.62,120.20 L244.86,119.99 L246.09,119.79 L247.32,119.58 L248.55,119.37 L249.77,119.16 L250.98,118.95 L252.19,118.74 L253.40,118.53 L254.60,118.32 L255.79,118.10 L256.98,117.89 L258.16,117.68 L259.34,117.46 L260.51,117.25 L261.68,117.03 L262.84,116.82 L263.99,116.60 L265.15,116.38 L266.29,116.16 L267.43,115.94 L268.57,115.72 L269.70,115.50 L270.82,115.28 L271.94,115.06 L273.06,114.83 L274.16,114.61 L275.27,114.38 L276.37,114.16 L277.46,113.93 L278.55,113.71 L279.63,113.48 L280.71,113.25 L281.78,113.02 L282.85,112.79 L283.91,112.56 L284.97,112.33 L286.02,112.10 L287.07,111.86 L288.11,111.63 L289.15,111.40 L290.18,111.16 L291.20,110.92 L292.22,110.69 L293.24,110.45 L294.25,110.21 L295.25,109.97 L296.25,109.73 L297.25,109.49 L298.24,109.25 L299.22,109.00 L300.20,108.76 L301.18,108.52 L302.15,108.27 L303.11,108.03 L304.07,107.78 L305.03,107.53 L305.97,107.28 L306.92,107.03 L307.86,106.78 L308.79,106.53 L309.72,106.28 L310.64,106.03 L311.56,105.77 L312.48,105.52 L313.38,105.26 L314.29,105.01 L315.19,104.75 L316.08,104.49 L316.97,104.23 L317.85,103.97 L318.73,103.71 L319.60,103.45 L320.47,103.18 L321.33,102.92 L322.19,102.66 L323.04,102.39 L323.89,102.12 L324.73,101.86 L325.57,101.59 L326.41,101.32 L327.23,101.05 L328.06,100.78 L328.88,100.51 L329.69,100.23 L330.50,99.96 L331.30,99.68 L332.10,99.41 L332.89,99.13 L333.68,98.85 L334.46,98.57 L335.24,98.29 L336.02,98.01 L336.78,97.73 L337.55,97.45 L338.31,97.16 L339.06,96.88 L339.81,96.59 L340.55,96.31 L341.29,96.02 L342.03,95.73 L342.76,95.44 L343.48,95.15 L344.20,94.85 L344.92,94.56 L345.63,94.27 L346.33,93.97 L347.03,93.68 L347.73,93.38 L348.42,93.08 L349.10,92.78 L349.78,92.48 L350.46,92.18 L351.13,91.87 L351.80,91.57 L352.46,91.27 L353.12,90.96 L353.77,90.65 L354.42,90.34 L355.06,90.03 L355.70,89.72 L356.33,89.41 L356.96,89.10 L357.58,88.78 L358.20,88.47 L358.82,88.15 L359.42,87.84 L360.03,87.52 L360.63,87.20 L361.22,86.88 L361.81,86.55 L362.40,86.23 L362.98,85.90 L363.56,85.58 L364.13,85.25 L364.70,84.92 L365.26,84.59 L365.82,84.26 L366.37,83.93 L366.92,83.60 L367.46,83.27 L368.00,82.93 L368.54,82.60 L369.07,82.26 L369.59,81.92 L370.11,81.58 L370.63,81.24 L371.14,80.90 L371.64,80.55 L372.15,80.21 L372.64,79.86 L373.14,79.51 L373.63,79.16 L374.11,78.81 L374.59,78.46 L375.06,78.11 L375.53,77.76 L376.00,77.40 L376.46,77.04 L376.92,76.69 L377.37,76.33 L377.82,75.97 L378.26,75.60 L378.70,75.24 L379.13,74.88 L379.56,74.51 L379.99,74.14 L380.41,73.77 L380.83,73.41 L381.24,73.03 L381.65,72.66 L382.05,72.29 L382.45,71.91 L382.84,71.54 L383.23,71.16 L383.62,70.78 L384.00,70.40 L384.38,70.02 L384.75,69.63 L385.12,69.25 L385.48,68.86 L385.84,68.48 L386.19,68.09 L386.54,67.70 L386.89,67.30 L387.23,66.91 L387.57,66.52 L387.90,66.12 L388.23,65.73 L388.56,65.33 L388.88,64.93 L389.20,64.53 L389.51,64.12 L389.82,63.72 L390.12,63.31 L390.42,62.91 L390.71,62.50 L391.01,62.09 L391.29,61.68 L391.58,61.27 L391.85,60.85 L392.13,60.44 L392.40,60.02 L392.67,59.60 L392.93,59.18 L393.19,58.76 L393.44,58.34 L393.69,57.92 L393.94,57.49 L394.18,57.06 L394.41,56.64 L394.65,56.21 L394.88,55.78 L395.10,55.35 L395.33,54.91 L395.54,54.48 L395.76,54.04 L395.97,53.61 L396.17,53.17 L396.37,52.73 L396.57,52.29 L396.77,51.84 L396.96,51.40 L397.14,50.95 L397.32,50.50 L397.50,50.06 L397.68,49.61 L397.85,49.16 L398.01,48.71 L398.18,48.25 L398.34,47.80 L398.49,47.35 L398.64,46.89 L398.79,46.43 L398.94,45.98 L399.08,45.52 L399.21,45.06 L399.35,44.59 L399.48,44.13 L399.60,43.67 L399.72,43.20 L399.84,42.74 L399.96,42.27 L400.07,41.81 L400.18,41.34 L400.28,40.87 L400.38,40.40 L400.48,39.93 L400.57,39.46 L400.66,38.99 L400.75,38.52 L400.83,38.04 L400.91,37.57 L400.99,37.10 L401.06,36.63 L401.13,36.16 L401.20,35.68 L401.26,35.21 L401.33,34.74 L401.38,34.27 L401.44,33.80 L401.49,33.33 L401.53,32.87 L401.58,32.40 L401.62,31.93 L401.66,31.47 L401.70,31.01 L401.73,30.56 L401.76,30.11 L401.78,29.66 L401.81,29.23 L401.83,28.80 L401.85,28.39 L401.87,27.99 L401.88,27.62 L401.89,27.27 L401.90,26.96 L401.91,26.70 L401.91,26.50 L401.91,26.39 L401.91,26.35" fill="none" stroke="#ff0000" stroke-width="1.9" stroke-dasharray="6.35 2.655"/>
<path d="M55.98,140.77 L56.88,140.70 L58.78,140.55 L60.67,140.41 L62.56,140.26 L64.44,140.11 L66.32,139.96 L68.19,139.81 L70.06,139.66 L71.92,139.51 L73.77,139.36 L75.62,139.21 L77.46,139.06 L79.30,138.91 L81.13,138.75 L82.95,138.60 L84.77,138.45 L86.59,138.29 L88.40,138.14 L90.20,137.99 L92.00,137.83 L93.79,137.68 L95.57,137.52 L97.35,137.36 L99.13,137.21 L100.90,137.05 L102.66,136.89 L104.42,136.73 L106.17,136.58 L107.92,136.42 L109.66,136.26 L111.39,136.10 L113.12,135.94 L114.84,135.78 L116.56,135.62 L118.27,135.46 L119.98,135.29 L121.68,135.13 L123.38,134.97 L125.07,134.81 L126.75,134.64 L128.43,134.48 L130.10,134.31 L131.77,134.15 L133.43,133.98 L135.09,133.82 L136.74,133.65 L138.39,133.48 L140.03,133.31 L141.66,133.15 L143.29,132.98 L144.91,132.81 L146.53,132.64 L148.14,132.47 L149.75,132.30 L151.35,132.13 L152.94,131.96 L154.53,131.78 L156.12,131.61 L157.69,131.44 L159.27,131.27 L160.83,131.09 L162.40,130.92 L163.95,130.74 L165.50,130.57 L167.05,130.39 L168.59,130.22 L170.12,130.04 L171.65,129.86 L173.17,129.68 L174.69,129.50 L176.20,129.33 L177.71,129.15 L179.21,128.97 L180.71,128.78 L182.20,128.60 L183.68,128.42 L185.16,128.24 L186.63,128.06 L188.10,127.87 L189.56,127.69 L191.02,127.51 L192.47,127.32 L193.92,127.14 L195.36,126.95 L196.80,126.76 L198.22,126.58 L199.65,126.39 L201.07,126.20 L202.48,126.01 L203.89,125.82 L205.29,125.63 L206.69,125.44 L208.08,125.25 L209.47,125.06 L210.85,124.87 L212.22,124.67 L213.59,124.48 L214.96,124.29 L216.32,124.09 L217.67,123.90 L219.02,123.70 L220.36,123.50 L221.70,123.31 L223.03,123.11 L224.36,122.91 L225.68,122.71 L227.00,122.51 L228.31,122.31 L229.61,122.11 L230.91,121.91 L232.21,121.71 L233.50,121.51 L234.78,121.31 L236.06,121.10 L237.33,120.90 L238.60,120.69 L239.86,120.49 L241.12,120.28 L242.37,120.08 L243.62,119.87 L244.86,119.66 L246.09,119.45 L247.32,119.24 L248.55,119.03 L249.77,118.82 L250.98,118.61 L252.19,118.40 L253.40,118.19 L254.60,117.98 L255.79,117.76 L256.98,117.55 L258.16,117.33 L259.34,117.12 L260.51,116.90 L261.68,116.68 L262.84,116.47 L263.99,116.25 L265.15,116.03 L266.29,115.81 L267.43,115.59 L268.57,115.37 L269.70,115.15 L270.82,114.92 L271.94,114.70 L273.06,114.48 L274.16,114.25 L275.27,114.03 L276.37,113.80 L277.46,113.57 L278.55,113.35 L279.63,113.12 L280.71,112.89 L281.78,112.66 L282.85,112.43 L283.91,112.20 L284.97,111.97 L286.02,111.73 L287.07,111.50 L288.11,111.27 L289.15,111.03 L290.18,110.80 L291.20,110.56 L292.22,110.32 L293.24,110.09 L294.25,109.85 L295.25,109.61 L296.25,109.37 L297.25,109.13 L298.24,108.89 L299.22,108.64 L300.20,108.40 L301.18,108.16 L302.15,107.91 L303.11,107.67 L304.07,107.42 L305.03,107.17 L305.97,106.93 L306.92,106.68 L307.86,106.43 L308.79,106.18 L309.72,105.93 L310.64,105.68 L311.56,105.42 L312.48,105.17 L313.38,104.92 L314.29,104.66 L315.19,104.40 L316.08,104.15 L316.97,103.89 L317.85,103.63 L318.73,103.37 L319.60,103.11 L320.47,102.85 L321.33,102.59 L322.19,102.33 L323.04,102.06 L323.89,101.80 L324.73,101.53 L325.57,101.27 L326.41,101.00 L327.23,100.73 L328.06,100.46 L328.88,100.19 L329.69,99.92 L330.50,99.65 L331.30,99.38 L332.10,99.11 L332.89,98.83 L333.68,98.56 L334.46,98.28 L335.24,98.01 L336.02,97.73 L336.78,97.45 L337.55,97.17 L338.31,96.89 L339.06,96.61 L339.81,96.32 L340.55,96.04 L341.29,95.76 L342.03,95.47 L342.76,95.19 L343.48,94.90 L344.20,94.61 L344.92,94.32 L345.63,94.03 L346.33,93.74 L347.03,93.45 L347.73,93.16 L348.42,92.86 L349.10,92.57 L349.78,92.27 L350.46,91.97 L351.13,91.68 L351.80,91.38 L352.46,91.08 L353.12,90.78 L353.77,90.47 L354.42,90.17 L355.06,89.87 L355.70,89.56 L356.33,89.26 L356.96,88.95 L357.58,88.64 L358.20,88.33 L358.82,88.02 L359.42,87.71 L360.03,87.40 L360.63,87.09 L361.22,86.77 L361.81,86.45 L362.40,86.14 L362.98,85.82 L363.56,85.50 L364.13,85.18 L364.70,84.86 L365.26,84.54 L365.82,84.21 L366.37,83.89 L366.92,83.57 L367.46,83.24 L368.00,82.92 L368.54,82.59 L369.07,82.26 L369.59,81.93 L370.11,81.59 L370.63,81.26 L371.14,80.93 L371.64,80.59 L372.15,80.26 L372.64,79.92 L373.14,79.58 L373.63,79.24 L374.11,78.90 L374.59,78.56 L375.06,78.21 L375.53,77.87 L376.00,77.52 L376.46,77.18 L376.92,76.83 L377.37,76.48 L377.82,76.13 L378.26,75.78 L378.70,75.42 L379.13,75.07 L379.56,74.72 L379.99,74.36 L380.41,74.00 L380.83,73.64 L381.24,73.28 L381.65,72.92 L382.05,72.56 L382.45,72.20 L382.84,71.83 L383.23,71.47 L383.62,71.10 L384.00,70.73 L384.38,70.36 L384.75,69.99 L385.12,69.62 L385.48,69.25 L385.84,68.87 L386.19,68.50 L386.54,68.12 L386.89,67.74 L387.23,67.36 L387.57,66.98 L387.90,66.60 L388.23,66.22 L388.56,65.83 L388.88,65.45 L389.20,65.06 L389.51,64.67 L389.82,64.28 L390.12,63.89 L390.42,63.50 L390.71,63.11 L391.01,62.71 L391.29,62.32 L391.58,61.92 L391.85,61.52 L392.13,61.12 L392.40,60.72 L392.67,60.32 L392.93,59.92 L393.19,59.51 L393.44,59.11 L393.69,58.70 L393.94,58.29 L394.18,57.88 L394.41,57.47 L394.65,57.06 L394.88,56.65 L395.10,56.23 L395.33,55.82 L395.54,55.40 L395.76,54.98 L395.97,54.56 L396.17,54.14 L396.37,53.72 L396.57,53.30 L396.77,52.88 L396.96,52.45 L397.14,52.02 L397.32,51.60 L397.50,51.17 L397.68,50.74 L397.85,50.31 L398.01,49.88 L398.18,49.44 L398.34,49.01 L398.49,48.58 L398.64,48.14 L398.79,47.71 L398.94,47.27 L399.08,46.83 L399.21,46.39 L399.35,45.95 L399.48,45.51 L399.60,45.07 L399.72,44.63 L399.84,44.18 L399.96,43.74 L400.07,43.29 L400.18,42.85 L400.28,42.40 L400.38,41.96 L400.48,41.51 L400.57,41.06 L400.66,40.61 L400.75,40.16 L400.83,39.71 L400.91,39.27 L400.99,38.82 L401.06,38.37 L401.13,37.92 L401.20,37.47 L401.26,37.02 L401.33,36.58 L401.38,36.13 L401.44,35.69 L401.49,35.24 L401.53,34.80 L401.58,34.35 L401.62,33.91 L401.66,33.47 L401.70,33.04 L401.73,32.61 L401.76,32.18 L401.78,31.76 L401.81,31.35 L401.83,30.95 L401.85,30.56 L401.87,30.18 L401.88,29.82 L401.89,29.49 L401.90,29.20 L401.91,28.95 L401.91,28.77 L401.91,28.66 L401.91,28.63" fill="none" stroke="#ff0000" stroke-width="1.9" stroke-dasharray="2.8 2.13"/>
<path d="M49.95,0 V223.2" stroke="#000" stroke-width="1.65" fill="none"/>
<path d="M409.05,0 V223.2" stroke="#000" stroke-width="1.75" fill="none"/>
<path d="M49.125,222.45 H409.925" stroke="#000" stroke-width="1.5" fill="none"/>
<path d="M49.125,0.2 H409.925" stroke="#000" stroke-width="1.9" fill="none"/>
<path d="M56.88,222.45 v-4.40 M56.88,0.20 v4.40 M74.13,222.45 v-2.60 M74.13,0.20 v2.60 M91.39,222.45 v-2.60 M91.39,0.20 v2.60 M108.64,222.45 v-2.60 M108.64,0.20 v2.60 M125.89,222.45 v-4.40 M125.89,0.20 v4.40 M143.14,222.45 v-2.60 M143.14,0.20 v2.60 M160.40,222.45 v-2.60 M160.40,0.20 v2.60 M177.65,222.45 v-2.60 M177.65,0.20 v2.60 M194.90,222.45 v-4.40 M194.90,0.20 v4.40 M212.15,222.45 v-2.60 M212.15,0.20 v2.60 M229.41,222.45 v-2.60 M229.41,0.20 v2.60 M246.66,222.45 v-2.60 M246.66,0.20 v2.60 M263.91,222.45 v-4.40 M263.91,0.20 v4.40 M281.16,222.45 v-2.60 M281.16,0.20 v2.60 M298.42,222.45 v-2.60 M298.42,0.20 v2.60 M315.67,222.45 v-2.60 M315.67,0.20 v2.60 M332.92,222.45 v-4.40 M332.92,0.20 v4.40 M350.17,222.45 v-2.60 M350.17,0.20 v2.60 M367.43,222.45 v-2.60 M367.43,0.20 v2.60 M384.68,222.45 v-2.60 M384.68,0.20 v2.60 M401.93,222.45 v-4.40 M401.93,0.20 v4.40 M49.95,218.00 h4.40 M409.05,218.00 h-4.40 M49.95,210.27 h2.60 M409.05,210.27 h-2.60 M49.95,202.54 h2.60 M409.05,202.54 h-2.60 M49.95,194.81 h2.60 M409.05,194.81 h-2.60 M49.95,187.08 h2.60 M409.05,187.08 h-2.60 M49.95,179.35 h4.40 M409.05,179.35 h-4.40 M49.95,171.62 h2.60 M409.05,171.62 h-2.60 M49.95,163.89 h2.60 M409.05,163.89 h-2.60 M49.95,156.16 h2.60 M409.05,156.16 h-2.60 M49.95,148.43 h2.60 M409.05,148.43 h-2.60 M49.95,140.70 h4.40 M409.05,140.70 h-4.40 M49.95,132.97 h2.60 M409.05,132.97 h-2.60 M49.95,125.24 h2.60 M409.05,125.24 h-2.60 M49.95,117.51 h2.60 M409.05,117.51 h-2.60 M49.95,109.78 h2.60 M409.05,109.78 h-2.60 M49.95,102.05 h4.40 M409.05,102.05 h-4.40 M49.95,94.32 h2.60 M409.05,94.32 h-2.60 M49.95,86.59 h2.60 M409.05,86.59 h-2.60 M49.95,78.86 h2.60 M409.05,78.86 h-2.60 M49.95,71.13 h2.60 M409.05,71.13 h-2.60 M49.95,63.40 h4.40 M409.05,63.40 h-4.40 M49.95,55.67 h2.60 M409.05,55.67 h-2.60 M49.95,47.94 h2.60 M409.05,47.94 h-2.60 M49.95,40.21 h2.60 M409.05,40.21 h-2.60 M49.95,32.48 h2.60 M409.05,32.48 h-2.60 M49.95,24.75 h4.40 M409.05,24.75 h-4.40 M49.95,17.02 h2.60 M409.05,17.02 h-2.60 M49.95,9.29 h2.60 M409.05,9.29 h-2.60 M49.95,1.56 h2.60 M409.05,1.56 h-2.60" fill="none" stroke="#000" stroke-width="1.5"/>
<text x="56.88" y="240.20" font-size="14.5" text-anchor="middle">0.0</text>
<text x="125.89" y="240.20" font-size="14.5" text-anchor="middle">0.2</text>
<text x="194.90" y="240.20" font-size="14.5" text-anchor="middle">0.4</text>
<text x="263.91" y="240.20" font-size="14.5" text-anchor="middle">0.6</text>
<text x="332.92" y="240.20" font-size="14.5" text-anchor="middle">0.8</text>
<text x="401.93" y="240.20" font-size="14.5" text-anchor="middle">1.0</text>
<text x="46.40" y="223.15" font-size="14.5" text-anchor="end">0.0</text>
<text x="46.40" y="184.50" font-size="14.5" text-anchor="end">0.5</text>
<text x="46.40" y="145.85" font-size="14.5" text-anchor="end">1.0</text>
<text x="46.40" y="107.20" font-size="14.5" text-anchor="end">1.5</text>
<text x="46.40" y="68.55" font-size="14.5" text-anchor="end">2.0</text>
<text x="46.40" y="29.90" font-size="14.5" text-anchor="end">2.5</text>
<text x="229.6" y="266.6" font-size="15" font-style="italic" text-anchor="middle">χ</text>
<text id="ylab" transform="translate(14.5,151.0) rotate(-90)" font-size="14.5"><tspan font-style="italic" x="0.4">ω</tspan><tspan font-style="italic" font-size="10.2" x="12.0" dy="2.4">R</tspan><tspan x="20.1" dy="-2.4">/</tspan><tspan font-style="italic" x="24.7">ω</tspan><tspan font-style="italic" font-size="10.2" x="36.0" dy="2.4">R</tspan><tspan x="43.9" dy="-2.4">(</tspan><tspan font-style="italic" font-size="15" x="50.0">χ</tspan><tspan x="66.4">0</tspan><tspan x="74.85">)</tspan></text>
<path transform="translate(14.5,151.0) rotate(-90)" d="M59.5,-5.4 H65.7 M59.5,-2.4 H65.7" stroke="#000" stroke-width="1.25" fill="none"/>
<text id="ann" x="267.3" y="206.9" font-size="17.5">Q/M=0, <tspan dx="1.9">Δ=4.%</tspan></text>
<path d="M75.4,22.5 H117.8" stroke="#0000ff" stroke-width="1.9" stroke-dasharray="6.3 2.6" fill="none"/>
<path d="M75.4,44.9 H120.0" stroke="#ff0000" stroke-width="1.9" fill="none"/>
<path d="M75.4,66.3 H117.8" stroke="#ff0000" stroke-width="1.9" stroke-dasharray="6.3 2.6" fill="none"/>
<path d="M75.4,88.0 H117.8" stroke="#ff0000" stroke-width="1.9" stroke-dasharray="2.7 2.1" fill="none"/>
<text x="126.1" y="26.30" font-size="10.7" textLength="48.1" lengthAdjust="spacing">geodesics</text>
<text y="48.30" font-size="10.7"><tspan x="126.1" textLength="29.4" lengthAdjust="spacing">exact,</tspan><tspan x="157.8" font-style="italic">l</tspan><tspan x="164.0">=</tspan><tspan x="173.5" font-style="italic">m</tspan><tspan x="185.8">=</tspan><tspan x="195.7">2</tspan></text>
<text y="70.30" font-size="10.7"><tspan x="126.1" textLength="29.4" lengthAdjust="spacing">exact,</tspan><tspan x="157.8" font-style="italic">l</tspan><tspan x="164.0">=</tspan><tspan x="173.5" font-style="italic">m</tspan><tspan x="185.8">=</tspan><tspan x="195.7">3</tspan></text>
<text y="91.70" font-size="10.7"><tspan x="126.1" textLength="29.4" lengthAdjust="spacing">exact,</tspan><tspan x="157.8" font-style="italic">l</tspan><tspan x="164.0">=</tspan><tspan x="173.5" font-style="italic">m</tspan><tspan x="185.8">=</tspan><tspan x="195.7">4</tspan></text>
</g>
</svg>
</body></html>
